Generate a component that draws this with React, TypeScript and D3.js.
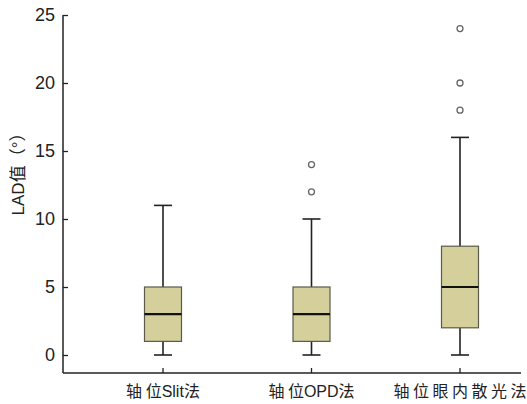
import React, { useEffect, useRef } from 'react';
import { select, scalePoint, scaleLinear, axisLeft } from 'd3';

const categories = ['轴位Slit法', '轴位OPD法', '轴位眼内散光法'];
const mins = [0, 0, 0];
const q1s = [1, 1, 2];
const medians = [3, 3, 5];
const q3s = [5, 5, 8];
const maxs = [11, 10, 16];
const outliers = [[], [12, 14], [18, 20, 24]];
const yTicks = [0, 5, 10, 15, 20, 25];

const W = 527;
const H = 404;
const left = 63;
const right = 521;
const top = 15;
const zeroY = 355;
const axisY = 373;

const App = () => {
    const svgRef = useRef<SVGSVGElement>(null);

    useEffect(() => {
        const svg = select(svgRef.current);
        svg.selectAll('*').remove();

        const y = scaleLinear().domain([0, 25]).range([zeroY, top]);
        const x = scalePoint().domain(categories).range([163, 460]);

        const font = 'Liberation Sans, Arial, sans-serif';

        // y axis
        const yAxis = axisLeft(y).tickValues(yTicks).tickSize(-5).tickPadding(8);
        const gy = svg.append('g').attr('transform', `translate(${left},0)`).call(yAxis);
        gy.select('.domain').remove();
        gy.selectAll('line').attr('stroke', '#222').attr('stroke-width', 1.3);
        gy.selectAll('text')
            .attr('font-family', font)
            .attr('font-size', 18)
            .attr('fill', '#222');
        svg.append('line')
            .attr('x1', left).attr('x2', left)
            .attr('y1', top).attr('y2', axisY)
            .attr('stroke', '#222').attr('stroke-width', 1.5);

        // x axis
        svg.append('line')
            .attr('x1', left).attr('x2', right)
            .attr('y1', axisY).attr('y2', axisY)
            .attr('stroke', '#222').attr('stroke-width', 1.5);

        const g = svg.append('g');
        categories.forEach((c, i) => {
            const m = x(c) as number;
            const bw = 37;
            const cap = 18;
            // x tick
            g.append('line')
                .attr('x1', m).attr('x2', m)
                .attr('y1', axisY).attr('y2', axisY - 5)
                .attr('stroke', '#222').attr('stroke-width', 1.3);
            // whiskers
            g.append('line')
                .attr('x1', m).attr('x2', m)
                .attr('y1', y(maxs[i])).attr('y2', y(q3s[i]))
                .attr('stroke', '#222').attr('stroke-width', 1.6);
            g.append('line')
                .attr('x1', m).attr('x2', m)
                .attr('y1', y(q1s[i])).attr('y2', y(mins[i]))
                .attr('stroke', '#222').attr('stroke-width', 1.6);
            g.append('line')
                .attr('x1', m - cap / 2).attr('x2', m + cap / 2)
                .attr('y1', y(maxs[i])).attr('y2', y(maxs[i]))
                .attr('stroke', '#222').attr('stroke-width', 1.6);
            g.append('line')
                .attr('x1', m - cap / 2).attr('x2', m + cap / 2)
                .attr('y1', y(mins[i])).attr('y2', y(mins[i]))
                .attr('stroke', '#222').attr('stroke-width', 1.6);
            // box
            g.append('rect')
                .attr('x', m - bw / 2).attr('width', bw)
                .attr('y', y(q3s[i])).attr('height', y(q1s[i]) - y(q3s[i]))
                .attr('fill', '#d4cf9b')
                .attr('stroke', '#5a5a4a').attr('stroke-width', 1.2);
            g.append('line')
                .attr('x1', m - bw / 2).attr('x2', m + bw / 2)
                .attr('y1', y(medians[i])).attr('y2', y(medians[i]))
                .attr('stroke', '#111').attr('stroke-width', 2.2);
            // outliers
            outliers[i].forEach((v) => {
                g.append('circle')
                    .attr('cx', m).attr('cy', y(v)).attr('r', 3)
                    .attr('fill', 'white')
                    .attr('stroke', '#666').attr('stroke-width', 1.3);
            });
            // label: spacing only between consecutive CJK characters
            const t = svg.append('text')
                .attr('y', 397)
                .attr('text-anchor', 'middle')
                .attr('font-family', 'Liberation Sans, Noto Sans CJK SC, sans-serif')
                .attr('font-size', 16)
                .attr('fill', '#222');
            const runs = c.match(/[A-Za-z]+|./g) || [];
            const cjk = (s: string) => /[^A-Za-z]/.test(s);
            runs.forEach((r, k) => {
                const sp = k < runs.length - 1 && cjk(r) && cjk(runs[k + 1]) ? 3.5 : 0;
                t.append('tspan').attr('letter-spacing', sp).text(r);
            });
            t.attr('x', m);
        });

        svg.append('text')
            .attr('transform', `translate(24,170) rotate(-90)`)
            .attr('text-anchor', 'middle')
            .attr('font-family', 'Liberation Sans, Noto Sans CJK SC, sans-serif')
            .attr('font-size', 17)
            .attr('fill', '#222')
            .text('LAD值（°）');
    }, []);

    return (
        <svg
            ref={svgRef}
            width={W}
            height={H}
            style={{ position: 'absolute', left: 0, top: 0, background: 'white' }}
        />
    );
};

export default App;
